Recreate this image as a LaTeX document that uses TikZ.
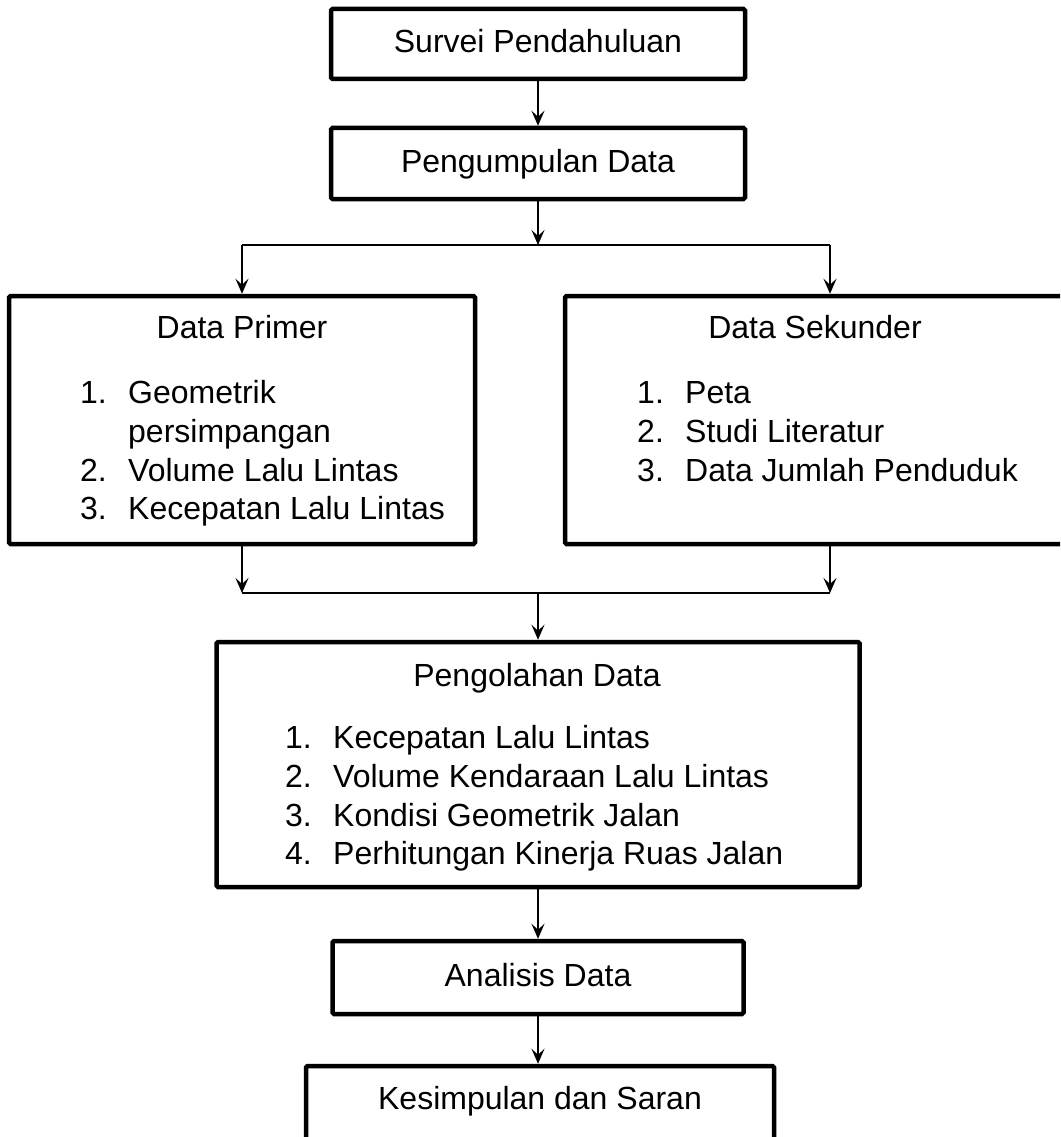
\documentclass[tikz,border=0pt]{standalone}
\usepackage{fontspec}
\setmainfont{Liberation Sans}
\usetikzlibrary{arrows.meta}
\begin{document}
\begin{tikzpicture}[x=1pt,y=-1pt,
  box/.style={draw, line width=4.5pt, rounded corners=1.5pt, inner sep=0pt,
    text height=23pt, text depth=6pt},
  arr/.style={line width=1.8pt, -{Stealth[length=15pt,width=13pt,inset=6pt]}},
  ln/.style={line width=1.8pt},
  txt/.style={inner sep=0pt, anchor=base},
  num/.style={inner sep=0pt, anchor=base west},
  font=\fontsize{32}{39}\selectfont]
\clip (0,0) rectangle (1060,1137);
\fill[white] (0,0) rectangle (1060,1137);

% boxes
\node[box, minimum width=414pt, minimum height=70pt] (b1) at (538,44) {Survei Pendahuluan};
\node[box, minimum width=414pt, minimum height=71pt] (b2) at (538,163.5) {Pengumpulan Data};
\node[box, minimum width=466pt, minimum height=248pt] (prim) at (242,420) {};
\node[box, minimum width=530pt, minimum height=248pt] (sek) at (830,420) {};
\node[box, minimum width=643pt, minimum height=245pt] (olah) at (538,764.5) {};
\node[box, minimum width=411pt, minimum height=73pt] (anal) at (538,977.5) {Analisis Data};
\node[box, minimum width=468pt, minimum height=84pt] (kes) at (540,1108) {};

% texts Data Primer
\node[txt] (tp) at (242,338) {Data Primer};
\node[num] (p1n) at (80,403) {1.};
\node[num] (p1) at (128,403) {Geometrik};
\node[num] (p1b) at (128,442) {persimpangan};
\node[num] (p2n) at (80,481) {2.};
\node[num] (p2) at (128,481) {Volume Lalu Lintas};
\node[num] (p3n) at (80,519) {3.};
\node[num] (p3) at (128,519) {Kecepatan Lalu Lintas};

% texts Data Sekunder
\node[txt] (ts) at (815,338) {Data Sekunder};
\node[num] (s1n) at (637,403) {1.};
\node[num] (s1) at (685,403) {Peta};
\node[num] (s2n) at (637,442) {2.};
\node[num] (s2) at (685,442) {Studi Literatur};
\node[num] (s3n) at (637,481) {3.};
\node[num] (s3) at (685,481) {Data Jumlah Penduduk};

% texts Pengolahan Data
\node[txt] (to) at (537,686) {Pengolahan Data};
\node[num] (o1n) at (285,748) {1.};
\node[num] (o1) at (333,748) {Kecepatan Lalu Lintas};
\node[num] (o2n) at (285,787) {2.};
\node[num] (o2) at (333,787) {Volume Kendaraan Lalu Lintas};
\node[num] (o3n) at (285,826) {3.};
\node[num] (o3) at (333,826) {Kondisi Geometrik Jalan};
\node[num] (o4n) at (285,864) {4.};
\node[num] (o4) at (333,864) {Perhitungan Kinerja Ruas Jalan};

% Kesimpulan text
\node[txt] (tk) at (540,1109) {Kesimpulan dan Saran};

% connectors
\coordinate (sp) at (538,245);
\coordinate (spL) at (242,245);
\coordinate (spR) at (830,245);
\coordinate (mgL) at (242,593);
\coordinate (mgR) at (830,593);

\draw[arr] (b1.south) -- (b2.north);
\draw[arr] (b2.south) -- (sp);
\draw[ln] (spL) -- (spR);
\draw[arr] (spL) -- (prim.north);
\draw[arr] (spR) -- (sek.north);
\draw[arr] (prim.south) -- (mgL);
\draw[arr] (sek.south) -- (mgR);
\draw[ln] (mgL) -- (mgR);
\draw[arr] (olah.north |- mgL) -- (olah.north);
\draw[arr] (olah.south) -- (anal.north);
\draw[arr] (anal.south) -- (anal.south |- kes.north);
\end{tikzpicture}
\end{document}
